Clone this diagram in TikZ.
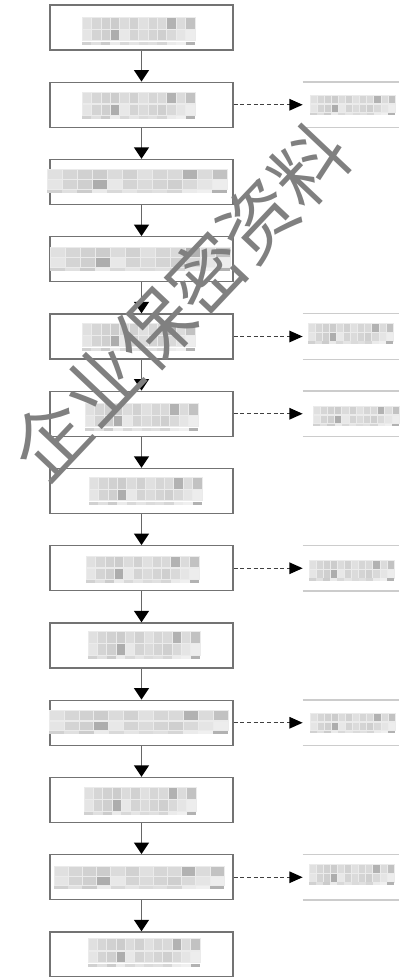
\documentclass[tikz,border=0pt]{standalone}
\usepackage{fontspec}
\newfontfamily\cjk{Noto Sans CJK SC}
\usepackage{tikz}
\usetikzlibrary{arrows.meta}
\newcommand{\blurtext}[4]{%
\foreach \s [count=\k from 0] in {12,16,18,20,14,18,12,16,15,30,14,24}
\filldraw[blurcell,fill=black!\s]({#1+\k*#3/12},{#2}) rectangle ++({#3/12},{0.43*#4});
\foreach \s [count=\k from 0] in {10,17,19,32,9,17,14,17,19,15,10,7}
\filldraw[blurcell,fill=black!\s]({#1+\k*#3/12},{#2+0.45*#4}) rectangle ++({#3/12},{0.4*#4});
\foreach \s [count=\k from 0] in {18,12,20,8,15,10,14,12,16,8,6,30}
\fill[black!\s]({#1+\k*#3/12},{#2+0.88*#4}) rectangle ++({#3/12},{0.12*#4});
}
\begin{document}
\begin{tikzpicture}[x=0.02cm,y=-0.02cm,
stepbox/.style={draw=black!55,line width=0.8pt,fill=white,minimum width=3.66cm,minimum height=0.9cm,inner sep=0pt},
sidebox/.style={minimum width=1.92cm,minimum height=0.9cm,inner sep=0pt},
sideedge/.style={draw=black!20,line width=0.7pt},
blurcell/.style={draw=white!92!black,line width=0.35pt},
flow/.style={draw=black!60,line width=0.8pt,-{Triangle[length=6.5pt,width=8.5pt,color=black]}},
dashflow/.style={draw=black!75,line width=0.7pt,dash pattern=on 2.3pt off 1.5pt,-{Triangle[length=7.5pt,width=6.5pt,color=black]}},
wmark/.style={rotate=46.6,text=black!50,font=\cjk\fontsize{43pt}{50pt}\selectfont,inner sep=0pt}]
\useasboundingbox(0,0) rectangle (399,977);
\foreach \i in {1,...,13}
\node[stepbox](b\i) at (141.5,{27.5+77.25*(\i-1)}){};
\foreach \i [evaluate=\i as \j using int(\i+1)] in {1,...,12}
\draw[flow](b\i)--(b\j);
\foreach \i in {2,5,6,8,10,12}{
\node[sidebox](s\i) at (351,{27.5+77.25*(\i-1)}){};
\draw[sideedge](s\i.north west)--(s\i.north east)
(s\i.south west)--(s\i.south east);
\draw[dashflow](b\i)--(s\i);
}
\foreach \bx/\by/\bw/\bh in {82/17/113/28,82/92/113/27,47/169/180/24,50/247/180/24,
82/323/113/28,85/403/113/28,89/477/113/28,86/556/113/27,88/631/112/28,
49/710/179/24,84/787/112/28,54/866/170/23,88/938/112/29,
310/95/85/20,308/323/85/21,313/406/86/20,309/560/85/21,310/713/85/20,309/864/85/21}
\blurtext{\bx}{\by}{\bw}{\bh};
\node[wmark](wm) at (180,302){企业保密资料};
\end{tikzpicture}
\end{document}
